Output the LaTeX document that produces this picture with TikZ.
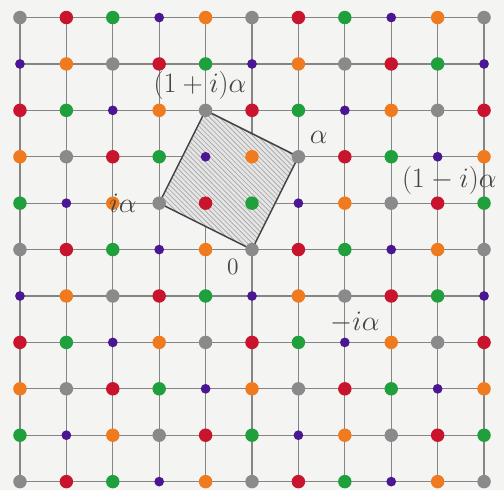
\documentclass[tikz,border=0pt]{standalone}
\usepackage{xcolor}
\definecolor{paper}{HTML}{F4F4F2}
\definecolor{pencil}{HTML}{444444}
\definecolor{gridgray}{HTML}{858585}
\definecolor{dgray}{HTML}{8A8A8A}
\definecolor{dred}{HTML}{C8142C}
\definecolor{dgreen}{HTML}{1FA03C}
\definecolor{dpurple}{HTML}{4B1691}
\definecolor{dorange}{HTML}{F07A1E}
\usepackage{tikz}
\usetikzlibrary{patterns}
\tikzset{dot/.style={circle,inner sep=0pt,minimum size=2.9mm},d0/.style={fill=dgray},d1/.style={fill=dred},d2/.style={fill=dgreen},d3/.style={fill=dpurple,minimum size=2.1mm},d4/.style={fill=dorange},lab/.style={text=pencil,font=\LARGE}}

\begin{document}
\begin{tikzpicture}[gridline/.style={draw=gridgray,line width=.8pt},cell/.style={draw=pencil,line width=.9pt,pattern=north west lines,pattern color=gray!70}]
\fill[paper] (-.43,-.18) rectangle (10.43,10.378);
\useasboundingbox (-.43,-.18) rectangle (10.43,10.378);
\draw[gridline] (0,0) grid (10,10);
\coordinate (o) at (5,5); \coordinate (a) at (6,7); \coordinate (pa) at (4,8); \coordinate (ia) at (3,6);
\fill[gray!20] (o)--(a)--(pa)--(ia)--cycle;
\draw[cell] (o)--(a)--(pa)--(ia)--cycle;
\foreach \x in {0,...,10}{\foreach \y in {0,...,10}{\pgfmathtruncatemacro\k{mod(\x+2*\y,5)}\node[dot,d\k] (p-\x-\y) at (\x,\y) {};}}
\node[lab] (l-pa) at (3.88,8.54) {$(1+i)\alpha$};
\node[lab] (l-a) at (6.44,7.42) {$\alpha$};
\node[lab] (l-ia) at (2.22,6.0) {$i\alpha$};
\node[lab] (l-ma) at (9.25,6.5) {$(1-i)\alpha$};
\node[lab] (l-nia) at (7.22,3.42) {$-i\alpha$};
\node[lab,font=\Large] (l-o) at (4.59,4.62) {$0$};
\end{tikzpicture}
\end{document}
